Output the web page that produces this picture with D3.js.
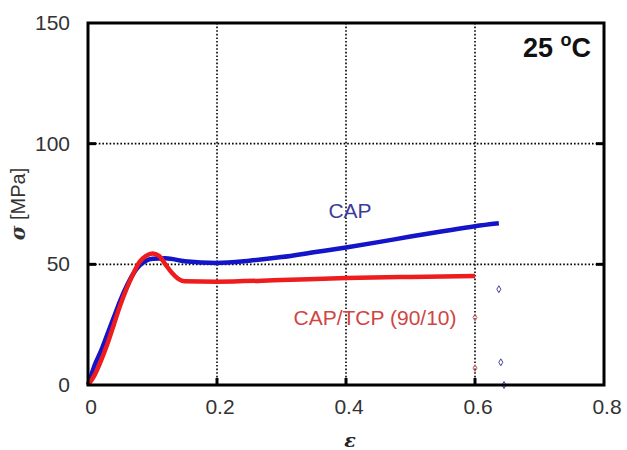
<!DOCTYPE html>
<html>
<head>
<meta charset="utf-8">
<script src="https://cdn.jsdelivr.net/npm/d3@7"></script>
<style>
  body { margin: 0; background: #fff; }
  svg { display: block; }
  text { font-family: "Liberation Sans", Arial, sans-serif; }
</style>
</head>
<body>
<svg id="chart"></svg>
<script>
// strain (epsilon) and stress (MPa)
var capStrain = [0, 0.005, 0.01, 0.02, 0.03, 0.04, 0.05, 0.06, 0.07, 0.08, 0.09, 0.1, 0.12, 0.15, 0.2, 0.25, 0.3, 0.35, 0.4, 0.45, 0.5, 0.55, 0.6, 0.637];
var capStress = [0, 4, 8, 14, 21, 28, 35, 41, 46, 49.5, 51.5, 52.3, 52.5, 51.3, 50.6, 51.5, 53, 55, 57, 59.2, 61.5, 63.7, 65.8, 67];
var tcpStrain = [0, 0.01, 0.02, 0.03, 0.04, 0.05, 0.06, 0.07, 0.08, 0.09, 0.1, 0.11, 0.12, 0.13, 0.14, 0.15, 0.2, 0.3, 0.4, 0.5, 0.6];
var tcpStress = [0, 4, 10, 17, 25, 33, 40, 46, 51, 53.5, 54.5, 53.5, 50, 46.5, 44, 43, 42.8, 43.5, 44.3, 44.8, 45.2];
// loose points after break
var capStrayStrain = [0.637, 0.64, 0.645];
var capStrayStress = [39.7, 9.4, 0];
var tcpStrayStrain = [0.6, 0.6];
var tcpStrayStress = [28, 7];

var xTicks = [0, 0.2, 0.4, 0.6, 0.8];
var yTicks = [0, 50, 100, 150];
var xGrid = [0.2, 0.4, 0.6];
var yGrid = [50, 100];

var W = 627, H = 450;
var margin = {left: 88, right: 23, top: 23, bottom: 65};

var svg = d3.select("#chart").attr("width", W).attr("height", H);

var x = d3.scaleLinear().domain([0, 0.8]).range([margin.left, W - margin.right]);
var y = d3.scaleLinear().domain([0, 150]).range([H - margin.bottom, margin.top]);

//dotted grid
svg.selectAll(".gx").data(xGrid).enter().append("line")
    .attr("x1", function(d) { return x(d); })
    .attr("x2", function(d) { return x(d); })
    .attr("y1", y(150)).attr("y2", y(0))
    .style("stroke", "#000").style("stroke-width", 1.6)
    .style("stroke-dasharray", "1.6,2");
svg.selectAll(".gy").data(yGrid).enter().append("line")
    .attr("y1", function(d) { return y(d); })
    .attr("y2", function(d) { return y(d); })
    .attr("x1", x(0)).attr("x2", x(0.8))
    .style("stroke", "#000").style("stroke-width", 1.6)
    .style("stroke-dasharray", "1.6,2");

function pairs(xs, ys) {
    return xs.map(function(v, i) { return [v, ys[i]]; });
}

var line = d3.line()
    .x(function(d) { return x(d[0]); })
    .y(function(d) { return y(d[1]); })
    .curve(d3.curveMonotoneX);

svg.append("path").datum(pairs(capStrain, capStress))
    .attr("d", line)
    .style("fill", "none").style("stroke", "#1414c8").style("stroke-width", 4.5);
svg.append("path").datum(pairs(tcpStrain, tcpStress))
    .attr("d", line)
    .style("fill", "none").style("stroke", "#ee1c1c").style("stroke-width", 4.5);

var diamond = d3.symbol().type(d3.symbolDiamond).size(14);
svg.selectAll(".sc").data(pairs(capStrayStrain, capStrayStress)).enter().append("path")
    .attr("d", diamond)
    .attr("transform", function(d) { return "translate(" + x(d[0]) + "," + y(d[1]) + ")"; })
    .style("fill", "none").style("stroke", "#4040a0").style("stroke-width", 1);
svg.selectAll(".st").data(pairs(tcpStrayStrain, tcpStrayStress)).enter().append("path")
    .attr("d", diamond)
    .attr("transform", function(d) { return "translate(" + x(d[0]) + "," + y(d[1]) + ")"; })
    .style("fill", "none").style("stroke", "#d06060").style("stroke-width", 1);

//frame
svg.append("rect")
    .attr("x", x(0)).attr("y", y(150))
    .attr("width", x(0.8) - x(0)).attr("height", y(0) - y(150))
    .style("fill", "none").style("stroke", "#000").style("stroke-width", 3);

//inner ticks
svg.selectAll(".tx").data(xGrid).enter().append("line")
    .attr("x1", function(d) { return x(d); })
    .attr("x2", function(d) { return x(d); })
    .attr("y1", y(0)).attr("y2", y(0) - 7)
    .style("stroke", "#000").style("stroke-width", 3);
[x(0), x(0.8)].forEach(function(px, k) {
    svg.selectAll(".ty" + k).data(yGrid).enter().append("line")
        .attr("x1", px).attr("x2", px + (k ? -8 : 8))
        .attr("y1", function(d) { return y(d); })
        .attr("y2", function(d) { return y(d); })
        .style("stroke", "#000").style("stroke-width", 3);
});

//tick labels
svg.selectAll(".lx").data(xTicks).enter().append("text")
    .attr("x", function(d) { return x(d) + 3; })
    .attr("y", y(0) + 29)
    .attr("text-anchor", "middle")
    .style("font-size", "21px").style("fill", "#333")
    .text(function(d) { return d === 0 ? "0" : d3.format(".1f")(d); });
svg.selectAll(".ly").data(yTicks).enter().append("text")
    .attr("x", x(0) - 18)
    .attr("y", function(d) { return y(d) + 7; })
    .attr("text-anchor", "end")
    .style("font-size", "21px").style("fill", "#333")
    .text(function(d) { return d; });

//axis titles
svg.append("text")
    .attr("transform", "translate(25," + 204 + ") rotate(-90)")
    .attr("text-anchor", "middle")
    .style("font-size", "20px").style("fill", "#333")
    .html('<tspan style="font-weight:bold;font-style:italic;font-family:\'DejaVu Serif\',serif">σ</tspan> [MPa]');
svg.append("text")
    .attr("x", 350).attr("y", 447)
    .attr("text-anchor", "middle")
    .style("font-size", "19px").style("font-weight", "bold").style("font-style", "italic")
    .style("font-family", "'DejaVu Serif', serif").style("fill", "#222")
    .text("ε");

//labels inside plot
svg.append("text")
    .attr("x", 591).attr("y", 57)
    .attr("text-anchor", "end")
    .style("font-size", "27px").style("font-weight", "bold").style("fill", "#111")
    .html('25 <tspan dy="-11" style="font-size:18px">o</tspan><tspan dy="11">C</tspan>');
svg.append("text")
    .attr("x", 350).attr("y", 218)
    .attr("text-anchor", "middle")
    .style("font-size", "21px").style("fill", "#3c3c9a")
    .text("CAP");
svg.append("text")
    .attr("x", 375).attr("y", 325)
    .attr("text-anchor", "middle")
    .style("font-size", "21px").style("fill", "#d04545")
    .text("CAP/TCP (90/10)");
</script>
</body>
</html>
